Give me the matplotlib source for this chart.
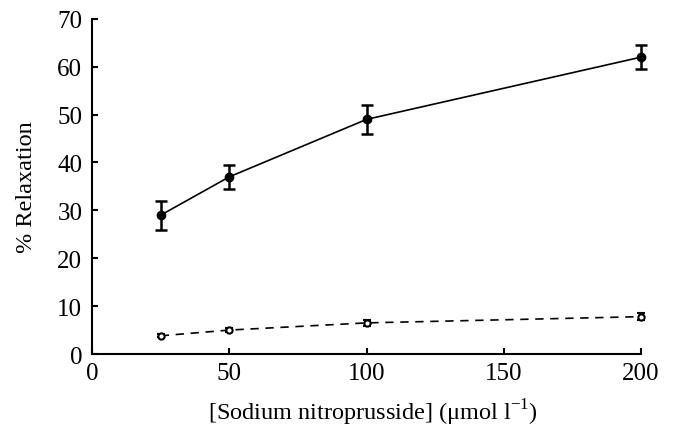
import matplotlib
matplotlib.use("Agg")
import matplotlib.pyplot as plt

plt.rcParams['font.family'] = ['Liberation Serif', 'DejaVu Serif']
plt.rcParams['mathtext.fontset'] = 'custom'
plt.rcParams['mathtext.rm'] = 'Liberation Serif'

conc = [25, 50, 100, 200]
control = [29, 37, 49, 62]
control_err = [3, 2.5, 3, 2.5]
treated = [3.8, 5.0, 6.5, 7.8]
treated_err = [0.3, 0.5, 0.7, 0.7]
xticks = [0, 50, 100, 150, 200]
yticks = [0, 10, 20, 30, 40, 50, 60, 70]

fig = plt.figure(figsize=(6.77, 4.27), dpi=100)
ax = fig.add_axes([0.136, 0.1686, 0.811, 0.785])

ax.errorbar(conc, control, yerr=control_err, color='black', linestyle='-', linewidth=1.2,
            marker='o', markersize=6, capsize=4, elinewidth=1.8, capthick=1.8)
ax.errorbar(conc, treated, yerr=treated_err, color='black', linestyle='--', linewidth=1.2,
            marker='o', markersize=4.5, markerfacecolor='white', markeredgewidth=1.5,
            capsize=3, elinewidth=1.5, capthick=1.5, dashes=(5, 4))

ax.set_xlim(0, 200)
ax.set_ylim(0, 70)
ax.set_xticks(xticks)
ax.set_yticks(yticks)
for s in ['top', 'right']:
    ax.spines[s].set_visible(False)
for s in ['left', 'bottom']:
    ax.spines[s].set_linewidth(1.5)
ax.tick_params(direction='in', length=4, width=1.5, labelsize=18)
ax.tick_params(axis='x', pad=6)
ax.tick_params(axis='y', pad=7)
ax.set_xlabel(r'[Sodium nitroprusside] (μmol l$^{\mathrm{-1}}$)', fontsize=17.5)
ax.xaxis.set_label_coords(0.512, -0.128)
ax.set_ylabel('% Relaxation', fontsize=17.5, labelpad=15)
for ch in ax.get_children():
    try:
        ch.set_clip_on(False)
    except Exception:
        pass

fig.savefig('out.png', dpi=100)
